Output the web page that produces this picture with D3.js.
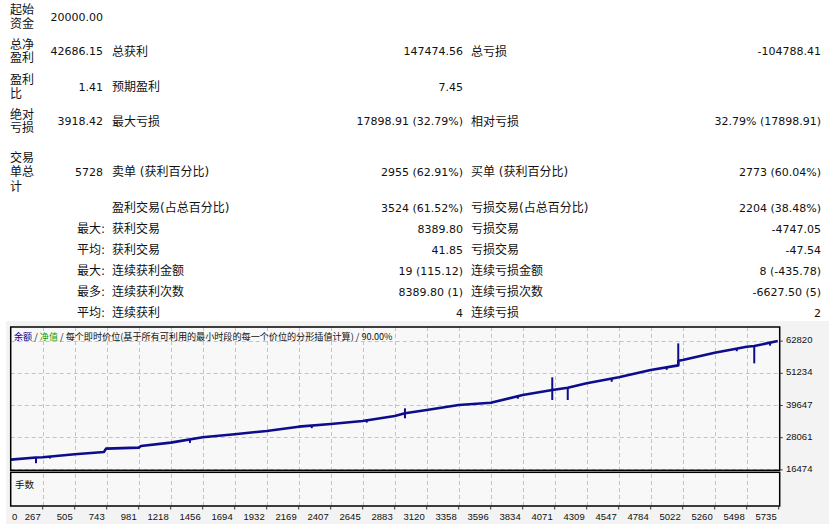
<!DOCTYPE html>
<html>
<head>
<meta charset="utf-8">
<script src="https://cdn.jsdelivr.net/npm/d3@7"></script>
<style>
	body { margin: 0; background: #fff; }
	svg { display: block; }
	.cell { font-family: "DejaVu Sans", "Noto Sans CJK SC", sans-serif; fill: #111; }
	.lbl { font-size: 12px; }
	.num { font-size: 11px; }
	.axis-text { font-family: "Liberation Sans", "DejaVu Sans", sans-serif; font-size: 9.5px; fill: #111; }
	.grid { stroke: #c4c4c4; stroke-width: 1; stroke-dasharray: 4,3; fill: none; }
	.frame { stroke: #000; stroke-width: 1.5; fill: none; }
</style>
</head>
<body>
<svg id="chart" width="829" height="524"></svg>
<script>
// ---- report table ----
const headLabels = [["起始", "资金"], ["总净", "盈利"], ["盈利", "比"], ["绝对", "亏损"], ["交易", "单总", "计"], [], [], [], [], [], []];
const headValues = ["20000.00", "42686.15", "1.41", "3918.42", "5728", "", "", "", "", "", ""];
const prefixes = ["", "", "", "", "", "", "最大:", "平均:", "最大:", "最多:", "平均:"];
const midLabels = ["", "总获利", "预期盈利", "最大亏损", "卖单 (获利百分比)", "盈利交易(占总百分比)", "获利交易", "获利交易", "连续获利金额", "连续获利次数", "连续获利"];
const midValues = ["", "147474.56", "7.45", "17898.91 (32.79%)", "2955 (62.91%)", "3524 (61.52%)", "8389.80", "41.85", "19 (115.12)", "8389.80 (1)", "4"];
const rightLabels = ["", "总亏损", "", "相对亏损", "买单 (获利百分比)", "亏损交易(占总百分比)", "亏损交易", "亏损交易", "连续亏损金额", "连续亏损次数", "连续亏损"];
const rightValues = ["", "-104788.41", "", "32.79% (17898.91)", "2773 (60.04%)", "2204 (38.48%)", "-4747.05", "-47.54", "8 (-435.78)", "-6627.50 (5)", "2"];

// ---- balance chart ----
const xTickLabels = [0, 267, 505, 743, 981, 1218, 1456, 1694, 1932, 2169, 2407, 2645, 2883, 3120, 3358, 3596, 3834, 4071, 4309, 4547, 4784, 5022, 5260, 5498, 5735];
const yTicks = [62820, 51234, 39647, 28061, 16474];

const tradeNo = [0, 211, 267, 505, 723, 738, 981, 998, 1218, 1456, 1694, 1932, 2169, 2407, 2645, 2883, 2959, 3120, 3358, 3596, 3834, 4053, 4168, 4309, 4547, 4784, 4989, 4990, 5022, 5260, 5498, 5554, 5728];
const balance = [20000, 20780, 20860, 21935, 22760, 23950, 24310, 24920, 26100, 28040, 29120, 30310, 31850, 32820, 33900, 35700, 36670, 37850, 39650, 40480, 43240, 45040, 45870, 47450, 49600, 52220, 53910, 55570, 55820, 58440, 60600, 60850, 62686];

// equity excursions (vertical strokes on the balance line)
const spikeTrade = [211, 321, 1361, 2266, 2675, 2959, 3798, 4053, 4168, 4495, 4903, 4989, 5424, 5554, 5671];
const spikeLow = [18700, 20400, 26000, 31300, 33300, 34870, 41900, 41450, 41450, 48000, 52300, 53910, 59000, 54630, 61000];
const spikeHigh = [20780, 21100, 27270, 32250, 34600, 38460, 42800, 49600, 45870, 49130, 53200, 61820, 59930, 60850, 62080];

const title = [
	{ t: "余额", c: "#00008c" },
	{ t: " / ", c: "#111" },
	{ t: "净值", c: "#10a010" },
	{ t: " / 每个即时价位(基于所有可利用的最小时段的每一个价位的分形插值计算) / 90.00%", c: "#111" }
];

const svg = d3.select("#chart");

// table layout
const rowY = [17, 51.5, 87, 121.5, 172, 208, 229, 250, 271, 292, 313];
const col = { head: 10, headVal: 103, prefix: 77, mid: 112, midVal: 463, right: 471, rightVal: 821 };

const table = svg.append("g");

rowY.forEach((ry, i) => {
	const lines = headLabels[i];
	const step = lines.length === 3 ? 14.5 : 13.3;
	lines.forEach((s, j) => {
		table.append("text")
			.attr("class", "cell lbl")
			.attr("x", col.head)
			.attr("y", ry + (j - (lines.length - 1) / 2) * step)
			.attr("dominant-baseline", "central")
			.text(s);
	});

	const put = (txt, x, anchor, cls) => {
		if (!txt) return;
		table.append("text")
			.attr("class", `cell ${cls}`)
			.attr("x", x)
			.attr("y", ry)
			.attr("text-anchor", anchor)
			.attr("dominant-baseline", "central")
			.text(txt);
	};

	put(headValues[i], col.headVal, "end", "num");
	put(prefixes[i], col.prefix, "start", "lbl");
	put(midLabels[i], col.mid, "start", "lbl");
	put(midValues[i], col.midVal, "end", "num");
	put(rightLabels[i], col.right, "start", "lbl");
	put(rightValues[i], col.rightVal, "end", "num");
});

// chart area
const plot = { left: 10.7, right: 778.7, top: 327, bottom: 470.3, lowTop: 472.3, lowBottom: 506 };

svg.append("rect")
	.attr("x", 6).attr("y", 321)
	.attr("width", 823).attr("height", 203)
	.attr("fill", "#f3f3f3");

svg.append("rect")
	.attr("x", plot.left).attr("y", plot.top)
	.attr("width", plot.right - plot.left).attr("height", plot.lowBottom - plot.top)
	.attr("fill", "#f8f8f8");

const gridStep = (plot.right - plot.left) / (xTickLabels.length - 1);
const x = d3.scaleLinear()
	.domain(xTickLabels)
	.range(xTickLabels.map((d, i) => plot.left + i * gridStep));

const y = d3.scaleLinear()
	.domain([16474, 62820])
	.range([469.4, 340.6]);

// grid
const gridG = svg.append("g");
gridG.selectAll("line.v")
	.data(xTickLabels.slice(1, -1))
	.join("line")
	.attr("class", "grid v")
	.attr("x1", d => Math.round(x(d)) + 0.5)
	.attr("x2", d => Math.round(x(d)) + 0.5)
	.attr("y1", plot.top)
	.attr("y2", plot.lowBottom);

gridG.selectAll("line.h")
	.data(yTicks)
	.join("line")
	.attr("class", "grid h")
	.attr("x1", plot.left)
	.attr("x2", plot.right)
	.attr("y1", d => Math.round(y(d)) + 0.5)
	.attr("y2", d => Math.round(y(d)) + 0.5);

// title
const titleText = svg.append("text")
	.attr("x", 14)
	.attr("y", 335.5)
	.attr("dominant-baseline", "central")
	.style("font-family", "'Noto Sans CJK SC', sans-serif")
	.style("font-size", "9.1px");

titleText.selectAll("tspan")
	.data(title)
	.join("tspan")
	.attr("fill", d => d.c)
	.text(d => d.t);

// balance line
const line = d3.line()
	.x((d, i) => x(tradeNo[i]))
	.y(d => y(d));

svg.append("path")
	.datum(balance)
	.attr("d", line)
	.attr("fill", "none")
	.attr("stroke", "#0c0c8c")
	.attr("stroke-width", 2.6)
	.attr("stroke-linejoin", "round");

svg.append("g")
	.selectAll("line")
	.data(spikeTrade)
	.join("line")
	.attr("x1", d => x(d))
	.attr("x2", d => x(d))
	.attr("y1", (d, i) => y(spikeLow[i]))
	.attr("y2", (d, i) => y(spikeHigh[i]))
	.attr("stroke", "#0c0c8c")
	.attr("stroke-width", 2);

// frames
svg.append("rect")
	.attr("class", "frame")
	.attr("x", plot.left).attr("y", plot.top)
	.attr("width", plot.right - plot.left + 1).attr("height", plot.bottom - plot.top);

svg.append("rect")
	.attr("class", "frame")
	.attr("x", plot.left).attr("y", plot.lowTop)
	.attr("width", plot.right - plot.left + 1).attr("height", plot.lowBottom - plot.lowTop);

svg.append("text")
	.attr("x", 15)
	.attr("y", 483.5)
	.attr("dominant-baseline", "central")
	.style("font-family", "'Noto Sans CJK SC', sans-serif")
	.style("font-size", "9.5px")
	.attr("fill", "#111")
	.text("手数");

// y axis labels
const yAxisG = svg.append("g");
yAxisG.selectAll("line")
	.data(yTicks)
	.join("line")
	.attr("x1", plot.right + 1.5)
	.attr("x2", plot.right + 4)
	.attr("y1", d => y(d) + 0.5)
	.attr("y2", d => y(d) + 0.5)
	.attr("stroke", "#333");

yAxisG.selectAll("text")
	.data(yTicks)
	.join("text")
	.attr("class", "axis-text")
	.attr("x", 786)
	.attr("y", d => y(d) - 0.8)
	.attr("dominant-baseline", "central")
	.text(d => d);

// x axis labels
const xAxisG = svg.append("g");
xAxisG.selectAll("line")
	.data(xTickLabels.slice(1))
	.join("line")
	.attr("x1", d => x(d))
	.attr("x2", d => x(d))
	.attr("y1", plot.lowBottom)
	.attr("y2", plot.lowBottom + 3.5)
	.attr("stroke", "#333");

xAxisG.selectAll("text")
	.data(xTickLabels)
	.join("text")
	.attr("class", "axis-text")
	.attr("x", (d, i) => i === 0 ? 12 : x(d) - 2)
	.attr("y", 516)
	.attr("text-anchor", (d, i) => i === 0 ? "start" : "end")
	.attr("dominant-baseline", "central")
	.text(d => d);
</script>
</body>
</html>
